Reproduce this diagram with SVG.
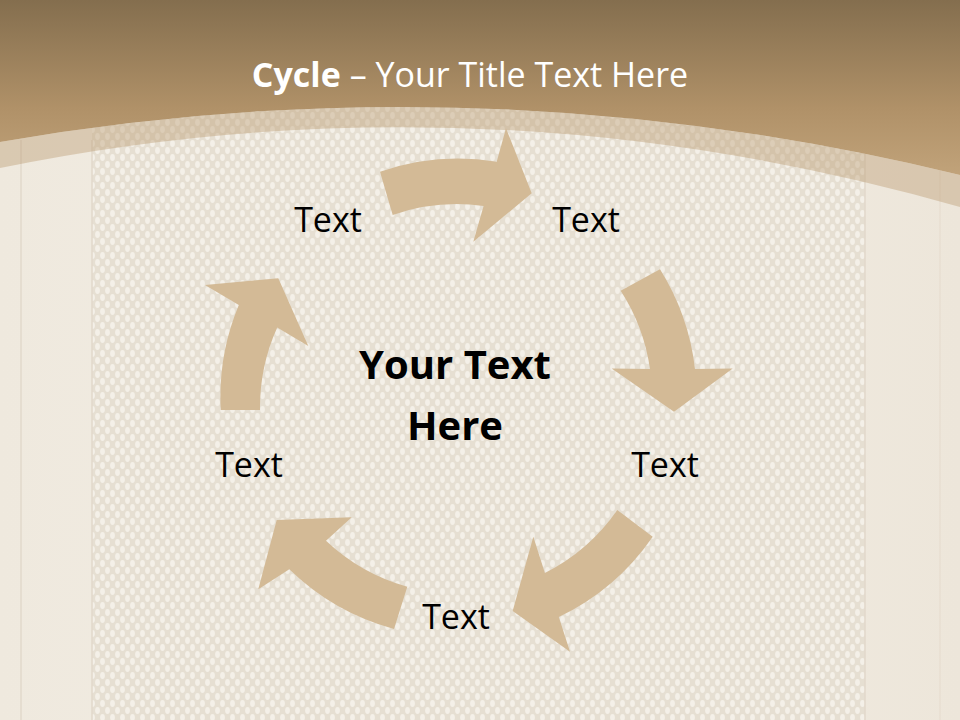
<svg xmlns="http://www.w3.org/2000/svg" width="960" height="720" viewBox="0 0 960 720">
  <defs>
    <linearGradient id="hdr" gradientUnits="userSpaceOnUse" x1="0" y1="0" x2="0" y2="180">
      <stop offset="0" stop-color="#846E4E"/>
      <stop offset="0.6" stop-color="#B09168"/>
      <stop offset="1" stop-color="#C2A47B"/>
    </linearGradient>
    <pattern id="weave" patternUnits="userSpaceOnUse" width="10" height="14">
      <rect width="10" height="14" fill="#E6DFD2"/>
      <ellipse cx="2.5" cy="3.5" rx="2.4" ry="3.4" fill="#F4F0E8"/>
      <ellipse cx="7.5" cy="10.5" rx="2.4" ry="3.4" fill="#F4F0E8"/>
    </pattern>
    <linearGradient id="wood" x1="0" y1="0" x2="1" y2="0">
      <stop offset="0" stop-color="#EFE9DE"/>
      <stop offset="0.5" stop-color="#F3EEE5"/>
      <stop offset="1" stop-color="#EDE6DA"/>
    </linearGradient>
    <style>
      .arrow { fill: #D3BA96; }
      .lbl { font-family: "Open Sans", "Liberation Sans", sans-serif; font-size: 34px; fill: #000000; text-anchor: middle; }
      .ctr { font-family: "Open Sans", "Liberation Sans", sans-serif; font-size: 40px; font-weight: bold; fill: #000000; text-anchor: middle; }
      .title { font-family: "Open Sans", "Liberation Sans", sans-serif; font-size: 34px; fill: #FFFFFF; text-anchor: middle; }
      .streak { stroke: #E2D9CB; stroke-width: 1.5; fill: none; }
    </style>
  </defs>

  <!-- background -->
  <rect x="0" y="0" width="960" height="720" fill="url(#wood)"/>
  <rect x="92" y="0" width="773" height="720" fill="url(#weave)"/>
  <line class="streak" x1="21" y1="140" x2="21" y2="720"/>
  <line class="streak" x1="92" y1="140" x2="92" y2="720"/>
  <line class="streak" x1="865" y1="140" x2="865" y2="720"/>
  <line class="streak" x1="940" y1="140" x2="940" y2="720" opacity="0.6"/>

  <!-- header -->
  <path d="M0,142 Q480,58 960,175 V207 Q480,70 0,168 Z" fill="#B8996E" opacity="0.4"/>
  <path d="M0,0 H960 V175 Q480,58 0,142 Z" fill="url(#hdr)"/>
  <text class="title" x="470" y="87"><tspan font-weight="bold">Cycle</tspan> – Your Title Text Here</text>

  <!-- connectors -->
  <g id="connectors">
    <path class="arrow" d="M380,171.7 A240,240 0 0 1 496.7,161.7 L506,128.3 L531.7,193.3 L473.3,241.7 L483.6,206 A195,195 0 0 0 392.7,215 Z"/>
    <path class="arrow" d="M660,269.3 A240,240 0 0 1 695,369 L732.7,368.5 L674,411.7 L611.7,368.5 L650,369 A195,195 0 0 0 620.7,290.7 Z"/>
    <path class="arrow" d="M652.7,536.7 A240,240 0 0 1 558.8,617 L570,651.7 L512.7,611 L533.3,536.7 L544.9,573 A195,195 0 0 0 617.3,510 Z"/>
    <path class="arrow" d="M394,629 A240,240 0 0 1 289.3,569.3 L258.3,589.3 L276.7,520 L351.7,517.3 L326,540.7 A195,195 0 0 0 407.3,586.7 Z"/>
    <path class="arrow" d="M220.7,410 A240,240 0 0 1 238.8,305 L205,285 L278.3,278.3 L308.3,346 L277.2,327.6 A195,195 0 0 0 260,410 Z"/>
  </g>

  <!-- nodes -->
  <g id="center"><text class="ctr" x="455" y="379">Your Text</text><text class="ctr" x="455" y="440">Here</text></g>
  <g id="node1"><text class="lbl" x="328" y="232">Text</text></g>
  <g id="node2"><text class="lbl" x="586" y="232">Text</text></g>
  <g id="node3"><text class="lbl" x="665" y="477">Text</text></g>
  <g id="node4"><text class="lbl" x="456" y="629">Text</text></g>
  <g id="node5"><text class="lbl" x="249" y="477">Text</text></g>
</svg>
